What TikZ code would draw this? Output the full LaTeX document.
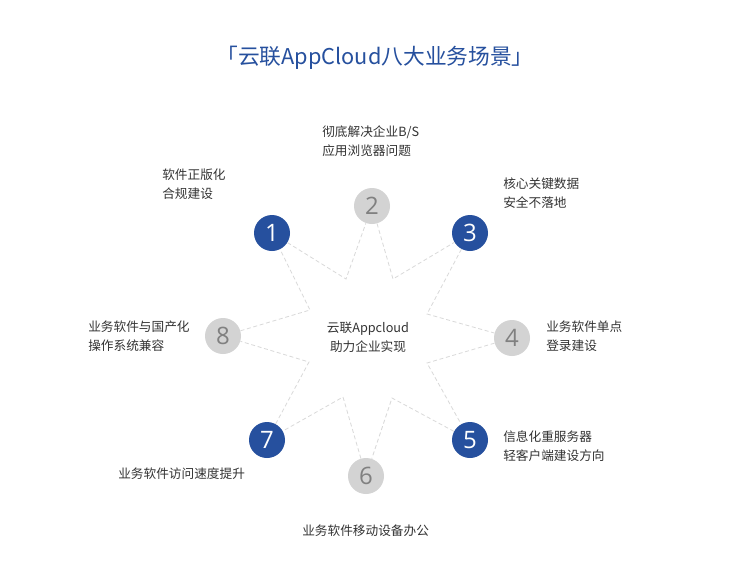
\documentclass[tikz,border=0pt]{standalone}
\usepackage{fontspec}
\setmainfont{Noto Sans CJK SC}
\newfontfamily\numfont{Open Sans}
\definecolor{bl}{HTML}{26509E}
\definecolor{gr}{HTML}{D3D3D3}
\definecolor{tx}{HTML}{333333}
\begin{document}
\begin{tikzpicture}[x=0.75pt,y=-0.75pt,
  circ/.style={circle,minimum size=27pt,inner sep=0pt,font=\numfont\fontsize{18}{18}\selectfont},
  bc/.style={circ,fill=bl,text=white},
  gc/.style={circ,fill=gr,text=black!50},
  lab/.style={anchor=west,align=left,text=tx,font=\fontsize{9.5}{14.5}\selectfont,inner sep=0pt},
  edge/.style={draw=black!15,dashed,dash pattern=on 3pt off 2pt,line width=0.6pt}]
\useasboundingbox (0,0) rectangle (751,583);
\fill[white] (0,0) rectangle (751,583);
\node[text=bl,font=\fontsize{16.3}{16.3}\selectfont] (title) at (375,58) {「云联AppCloud八大业务场景」};
\coordinate (i12) at (346,279); \coordinate (i23) at (393,279);
\coordinate (i34) at (427,314); \coordinate (i45) at (427,363);
\coordinate (i56) at (392,398); \coordinate (i67) at (343,397);
\coordinate (i78) at (309,362); \coordinate (i81) at (310,310);
\node[bc] (c1) at (272,233) {1};
\node[gc] (c2) at (372,206) {2};
\node[bc] (c3) at (470,233) {3};
\node[gc] (c4) at (512,338) {4};
\node[bc] (c5) at (470,440) {5};
\node[gc] (c6) at (366,476) {6};
\node[bc] (c7) at (267,440) {7};
\node[gc] (c8) at (223,336) {8};
\draw[edge] (c1) -- (i12) -- (c2) -- (i23) -- (c3) -- (i34) -- (c4) -- (i45) -- (c5) -- (i56) -- (c6) -- (i67) -- (c7) -- (i78) -- (c8) -- (i81) -- (c1);
\node[text=tx,align=center,font=\fontsize{9.5}{14.5}\selectfont] (ctr) at (368,337) {云联Appcloud\\助力企业实现};
\node[lab] (l1) at (162,184) {软件正版化\\合规建设};
\node[lab] (l2) at (322,141) {彻底解决企业B/S\\应用浏览器问题};
\node[lab] (l3) at (503,193) {核心关键数据\\安全不落地};
\node[lab] (l4) at (546,336) {业务软件单点\\登录建设};
\node[lab] (l5) at (503,446) {信息化重服务器\\轻客户端建设方向};
\node[lab] (l6) at (302,531) {业务软件移动设备办公};
\node[lab] (l7) at (118,474) {业务软件访问速度提升};
\node[lab] (l8) at (88,336) {业务软件与国产化\\操作系统兼容};
\end{tikzpicture}
\end{document}
